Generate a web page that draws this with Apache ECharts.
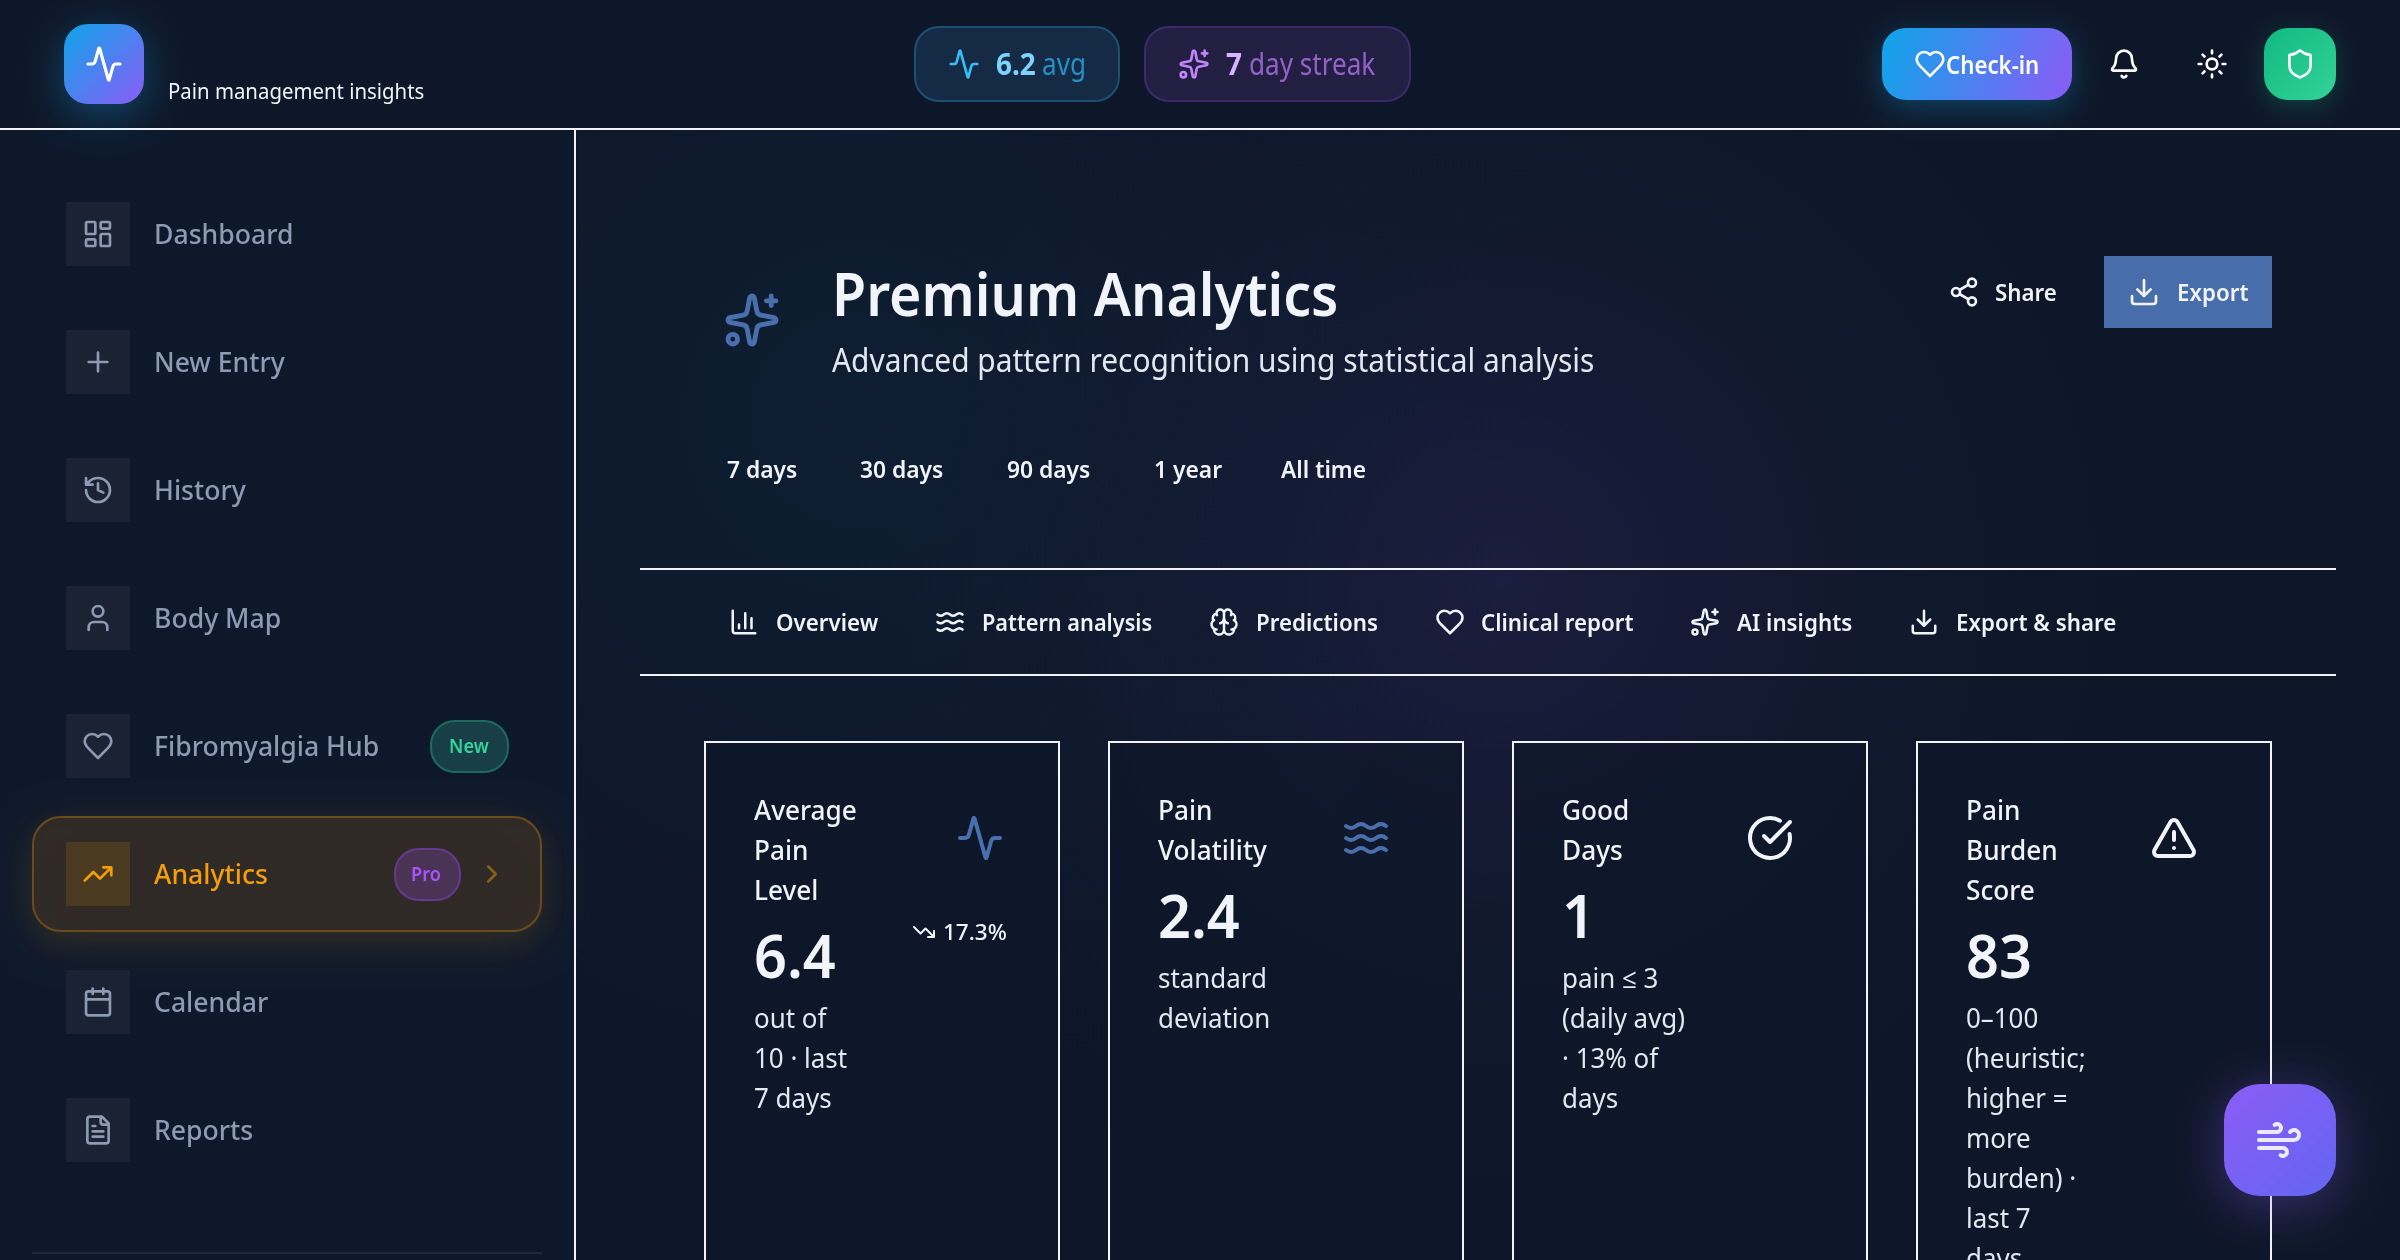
<!DOCTYPE html>
<html>
<head>
<meta charset="utf-8">
<title>Premium Analytics</title>
<script src="https://cdn.jsdelivr.net/npm/echarts@6/dist/echarts.min.js"></script>
<style>
    html, body { margin: 0; padding: 0; background: #0e1729; }
    #main { width: 2400px; height: 1260px; }
</style>
</head>
<body>
<div id="main"></div>
<script>
'use strict';

// page content
const tagline = 'Pain management insights';
const navLabels = ['Dashboard', 'New Entry', 'History', 'Body Map', 'Fibromyalgia Hub', 'Analytics', 'Calendar', 'Reports'];
const navIcons = ['dashboard', 'plus', 'history', 'user', 'heart', 'trendUp', 'calendar', 'file'];
const rangeLabels = ['7 days', '30 days', '90 days', '1 year', 'All time'];
const tabLabels = ['Overview', 'Pattern analysis', 'Predictions', 'Clinical report', 'AI insights', 'Export & share'];
const tabIcons = ['bars', 'waves', 'brain', 'heart', 'sparkles', 'download'];
const kpiTitles = [['Average', 'Pain', 'Level'], ['Pain', 'Volatility'], ['Good', 'Days'], ['Pain', 'Burden', 'Score']];
const kpiValues = ['6.4', '2.4', '1', '83'];
const kpiNotes = [
    ['out of', '10 · last', '7 days'],
    ['standard', 'deviation'],
    ['pain ≤ 3', '(daily avg)', '· 13% of', 'days'],
    ['0–100', '(heuristic;', 'higher =', 'more', 'burden) ·', 'last 7', 'days']
];
const kpiIcons = ['activity', 'waves', 'check', 'alert'];
const kpiTrend = '17.3%';

const ICONS = {
    activity: 'M22 12h-2.48a2 2 0 0 0-1.93 1.46l-2.35 8.36a.25.25 0 0 1-.48 0L9.24 2.18a.25.25 0 0 0-.48 0l-2.35 8.36A2 2 0 0 1 4.49 12H2',
    sparkles: 'M11.017 2.814a1 1 0 0 1 1.966 0l1.051 5.558a2 2 0 0 0 1.594 1.594l5.558 1.051a1 1 0 0 1 0 1.966l-5.558 1.051a2 2 0 0 0-1.594 1.594l-1.051 5.558a1 1 0 0 1-1.966 0l-1.051-5.558a2 2 0 0 0-1.594-1.594l-5.558-1.051a1 1 0 0 1 0-1.966l5.558-1.051a2 2 0 0 0 1.594-1.594zM20 2v4M22 4h-4M2 20a2 2 0 1 0 4 0a2 2 0 1 0-4 0',
    heart: 'M19 14c1.49-1.46 3-3.21 3-5.5A5.5 5.5 0 0 0 16.5 3c-1.76 0-3 .5-4.5 2-1.5-1.5-2.74-2-4.5-2A5.5 5.5 0 0 0 2 8.5c0 2.3 1.5 4.05 3 5.5l7 7Z',
    bell: 'M10.268 21a2 2 0 0 0 3.464 0M3.262 15.326A1 1 0 0 0 4 17h16a1 1 0 0 0 .74-1.673C19.41 13.956 18 12.499 18 8A6 6 0 0 0 6 8c0 4.499-1.411 5.956-2.738 7.326',
    sun: 'M8 12a4 4 0 1 0 8 0a4 4 0 1 0-8 0M12 2v2M12 20v2M4.93 4.93l1.41 1.41M17.66 17.66l1.41 1.41M2 12h2M20 12h2M6.34 17.66l-1.41 1.41M19.07 4.93l-1.41 1.41',
    shield: 'M20 13c0 5-3.5 7.5-7.66 8.95a1 1 0 0 1-.67-.01C7.5 20.5 4 18 4 13V6a1 1 0 0 1 1-1c2 0 4.5-1.2 6.24-2.72a1.17 1.17 0 0 1 1.52 0C14.51 3.81 17 5 19 5a1 1 0 0 1 1 1z',
    share: 'M15 5a3 3 0 1 0 6 0a3 3 0 1 0-6 0M3 12a3 3 0 1 0 6 0a3 3 0 1 0-6 0M15 19a3 3 0 1 0 6 0a3 3 0 1 0-6 0M8.59 13.51l6.83 3.98M15.41 6.51l-6.82 3.98',
    download: 'M12 15V3M21 15v4a2 2 0 0 1-2 2H5a2 2 0 0 1-2-2v-4M7 10l5 5 5-5',
    dashboard: 'M4 3h5a1 1 0 0 1 1 1v7a1 1 0 0 1-1 1H4a1 1 0 0 1-1-1V4a1 1 0 0 1 1-1zM15 3h5a1 1 0 0 1 1 1v3a1 1 0 0 1-1 1h-5a1 1 0 0 1-1-1V4a1 1 0 0 1 1-1zM15 12h5a1 1 0 0 1 1 1v7a1 1 0 0 1-1 1h-5a1 1 0 0 1-1-1v-7a1 1 0 0 1 1-1zM4 16h5a1 1 0 0 1 1 1v3a1 1 0 0 1-1 1H4a1 1 0 0 1-1-1v-3a1 1 0 0 1 1-1z',
    plus: 'M5 12h14M12 5v14',
    history: 'M3 12a9 9 0 1 0 9-9 9.75 9.75 0 0 0-6.74 2.74L3 8M3 3v5h5M12 7v5l4 2',
    user: 'M19 21v-2a4 4 0 0 0-4-4H9a4 4 0 0 0-4 4v2M8 7a4 4 0 1 0 8 0a4 4 0 1 0-8 0',
    trendUp: 'M16 7h6v6M22 7l-8.5 8.5-5-5L2 17',
    trendDown: 'M16 17h6v-6M22 17l-8.5-8.5-5 5L2 7',
    calendar: 'M8 2v4M16 2v4M5 4h14a2 2 0 0 1 2 2v14a2 2 0 0 1-2 2H5a2 2 0 0 1-2-2V6a2 2 0 0 1 2-2zM3 10h18',
    file: 'M15 2H6a2 2 0 0 0-2 2v16a2 2 0 0 0 2 2h12a2 2 0 0 0 2-2V7ZM14 2v4a2 2 0 0 0 2 2h4M10 9H8M16 13H8M16 17H8',
    chevron: 'M9 18l6-6-6-6',
    bars: 'M3 3v16a2 2 0 0 0 2 2h16M18 17V9M13 17V5M8 17v-3',
    waves: 'M2 6c.6.5 1.2 1 2.5 1C7 7 7 5 9.5 5c2.6 0 2.4 2 5 2 2.5 0 2.5-2 5-2 1.3 0 1.9.5 2.5 1M2 12c.6.5 1.2 1 2.5 1 2.5 0 2.5-2 5-2 2.6 0 2.4 2 5 2 2.5 0 2.5-2 5-2 1.3 0 1.9.5 2.5 1M2 18c.6.5 1.2 1 2.5 1 2.5 0 2.5-2 5-2 2.6 0 2.4 2 5 2 2.5 0 2.5-2 5-2 1.3 0 1.9.5 2.5 1',
    brain: 'M12 5a3 3 0 1 0-5.997.125 4 4 0 0 0-2.526 5.77 4 4 0 0 0 .556 6.588A4 4 0 1 0 12 18ZM12 5a3 3 0 1 1 5.997.125 4 4 0 0 1 2.526 5.77 4 4 0 0 1-.556 6.588A4 4 0 1 1 12 18ZM15 13a4.5 4.5 0 0 1-3-4 4.5 4.5 0 0 1-3 4M17.599 6.5a3 3 0 0 0 .399-1.375M6.003 5.125A3 3 0 0 0 6.401 6.5M3.477 10.896a4 4 0 0 1 .585-.396M19.938 10.5a4 4 0 0 1 .585.396M6 18a4 4 0 0 1-1.967-.516M19.967 17.484A4 4 0 0 1 18 18',
    check: 'M21.801 10A10 10 0 1 1 17 3.335M9 11l3 3L22 4',
    alert: 'M21.73 18l-8-14a2 2 0 0 0-3.48 0l-8 14A2 2 0 0 0 4 21h16a2 2 0 0 0 1.73-3M12 9v4M12 17h.01',
    wind: 'M12.8 19.6A2 2 0 1 0 14 16H2M17.5 8a2.5 2.5 0 1 1 2 4H2M9.8 4.4A2 2 0 1 1 11 8H2'
};

const FONT = '"Noto Sans", "Open Sans", sans-serif';
const INK = '#f1f5f9';
const MUTED = '#8c9bb3';
const STEEL = '#4a6fae';

// the graphic component has no plain 'path' type, so each icon becomes a shape
Object.keys(ICONS).forEach(function (name) {
    echarts.graphic.registerShape('icon-' + name, echarts.graphic.extendPath(ICONS[name], {}));
});

function makePage() {
    let els = [];

    function box(x, y, w, h, r, fill, stroke, extra) {
        els.push({
            type: 'rect',
            shape: {x: x, y: y, width: w, height: h, r: r},
            style: Object.assign({fill: fill, stroke: stroke || null, lineWidth: stroke ? 2 : 0}, extra || {})
        });
    }

    function icon(name, cx, cy, scale, color, width) {
        els.push({
            type: 'icon-' + name,
            x: cx - 12 * scale,
            y: cy - 12 * scale,
            scaleX: scale,
            scaleY: scale,
            style: {fill: null, stroke: color, lineWidth: width || 2, lineCap: 'round', lineJoin: 'round'}
        });
    }

    // squeeze: Noto runs wider than the face in the picture, so each text is fitted by eye
    function label(str, x, cy, size, weight, color, squeeze) {
        els.push({
            type: 'text',
            x: x,
            y: cy + size * 0.07,
            scaleX: squeeze,
            style: {
                text: str, x: 0, y: 0,
                font: weight + ' ' + size + 'px ' + FONT,
                fill: color,
                textAlign: 'left',
                textVerticalAlign: 'middle'
            }
        });
    }

    function grad(c1, c2) {
        return {type: 'linear', x: 0, y: 0, x2: 1, y2: 1, colorStops: [{offset: 0, color: c1}, {offset: 1, color: c2}]};
    }

    function glow(x, y, r, color) {
        return {type: 'radial', x: x, y: y, r: r, global: true, colorStops: [{offset: 0, color: color}, {offset: 1, color: 'rgba(14,23,41,0)'}]};
    }

    // backdrop
    box(0, 0, 2400, 1260, 0, '#0e1729');
    box(0, 130, 575, 1130, 0, '#0d182b');
    box(577, 130, 1823, 1130, 0, glow(860, 420, 800, 'rgba(14,165,233,0.05)'));
    box(577, 130, 1823, 1130, 0, glow(1500, 580, 720, 'rgba(139,92,246,0.10)'));
    box(0, 128, 2400, 2, 0, INK);
    box(574, 130, 2, 1130, 0, INK);

    // header
    box(64, 24, 80, 80, 24, grad('#0ea5e9', '#8b5cf6'), null, {shadowBlur: 40, shadowColor: 'rgba(14,165,233,0.35)', shadowOffsetY: 10});
    icon('activity', 104, 64, 1.6, '#ffffff');
    label(tagline, 168, 92, 21, 400, INK, 0.97);

    box(915, 27, 204, 74, 24, '#152b45', '#1c5070');
    icon('activity', 964, 64, 1.33, '#38bdf8');
    label('6.2', 996, 64, 30, 700, '#7dd3fc', 0.93);
    label('avg', 1042, 64, 30, 400, '#2590c5', 0.87);

    box(1145, 27, 265, 74, 24, '#221f42', '#3d2a6a');
    icon('sparkles', 1194, 64, 1.33, '#c084fc');
    label('7', 1226, 64, 30, 700, '#d8b4fe', 0.93);
    label('day streak', 1249, 64, 30, 400, '#9461c9', 0.87);

    box(1882, 28, 190, 72, 24, grad('#0ea5e9', '#8b5cf6'), null, {shadowBlur: 30, shadowColor: 'rgba(14,165,233,0.3)', shadowOffsetY: 8});
    icon('heart', 1930, 64, 1.33, '#ffffff');
    label('Check-in', 1946, 65, 25, 600, '#ffffff', 0.89);

    icon('bell', 2124, 64, 1.33, '#ffffff');
    icon('sun', 2212, 64, 1.33, '#ffffff');

    box(2264, 28, 72, 72, 24, grad('#10b981', '#34d399'), null, {shadowBlur: 24, shadowColor: 'rgba(16,185,129,0.25)', shadowOffsetY: 6});
    icon('shield', 2300, 64, 1.33, '#ffffff');

    // sidebar
    box(33, 817, 508, 114, 28, '#302a27', '#6b4a1b', {shadowBlur: 40, shadowColor: 'rgba(245,158,11,0.18)', shadowOffsetY: 10});
    navLabels.forEach(function (name, i) {
        let active = name === 'Analytics';
        let top = 202 + i * 128;
        box(66, top, 64, 64, 0, active ? '#4a3a20' : '#1a2233');
        icon(navIcons[i], 98, top + 32, 1.33, active ? '#f59e0b' : MUTED);
        label(name, 154, top + 32, 27, 500, active ? '#f59e0b' : MUTED, 0.985);
    });
    box(431, 721, 77, 51, 24, '#183f47', '#1d6a5e');
    label('New', 449, 746, 19.5, 600, '#34d399', 0.93);
    box(395, 849, 65, 51, 24, '#4a3355', '#643a8f');
    label('Pro', 411, 874, 19.5, 600, '#a855f7', 0.93);
    icon('chevron', 492, 874, 1.25, '#8a6118');
    box(32, 1252, 510, 2, 0, '#1e293b');

    // page title
    icon('sparkles', 752, 320, 2.4, STEEL);
    label('Premium Analytics', 832, 295, 60, 600, INK, 0.925);
    label('Advanced pattern recognition using statistical analysis', 832, 360, 33, 400, '#e2e8f0', 0.906);

    icon('share', 1964, 292, 1.33, INK);
    label('Share', 1995, 292, 24, 600, INK, 0.93);
    box(2104, 256, 168, 72, 0, '#486dab');
    icon('download', 2144, 292, 1.33, INK);
    label('Export', 2177, 292, 24, 600, INK, 0.93);

    // range picker and tabs
    let rangeX = [727, 860, 1007, 1154, 1281];
    rangeLabels.forEach(function (name, i) {
        label(name, rangeX[i], 469, 24, 600, INK, 0.95);
    });

    box(640, 568, 1696, 2, 0, INK);
    box(640, 674, 1696, 2, 0, INK);
    let tabIconX = [744, 950, 1224, 1450, 1705, 1924];
    let tabTextX = [776, 982, 1256, 1481, 1737, 1956];
    let tabSqueeze = [0.93, 0.905, 0.93, 0.93, 0.93, 0.93];
    tabLabels.forEach(function (name, i) {
        icon(tabIcons[i], tabIconX[i], 622, 1.25, INK);
        label(name, tabTextX[i], 622, 24, 600, INK, tabSqueeze[i]);
    });

    // stat cards
    let cardX = [705, 1109, 1513, 1917];
    let iconX = [980, 1366, 1770, 2174];
    let iconColor = [STEEL, STEEL, INK, INK];
    kpiTitles.forEach(function (title, i) {
        let left = cardX[i] + 49;
        box(cardX[i], 742, 354, 560, 0, 'rgba(14,23,41,0.7)', INK);
        title.forEach(function (line, k) {
            label(line, left, 810 + k * 40, 27, 500, INK, 0.97);
        });
        icon(kpiIcons[i], iconX[i], 838, 2, iconColor[i]);
        let valueY = 810 + title.length * 40 + 27;
        label(kpiValues[i], left, valueY, 60, 600, INK, 0.96);
        kpiNotes[i].forEach(function (line, k) {
            label(line, left, valueY + 61 + k * 40, 27, 400, '#e2e8f0', 0.96);
        });
    });
    icon('trendDown', 924, 932, 1, INK);
    label(kpiTrend, 943, 932, 22.5, 500, INK, 1);

    // floating action button
    box(2224, 1084, 112, 112, 36, grad('#8b5cf6', '#6366f1'), null, {shadowBlur: 50, shadowColor: 'rgba(139,92,246,0.35)', shadowOffsetY: 8});
    icon('wind', 2279, 1140, 2, '#ede9fe');

    let myChart = echarts.init(document.getElementById('main'));
    myChart.setOption({
        backgroundColor: '#0e1729',
        animation: false,
        graphic: {elements: els}
    });
}

makePage();
</script>
</body>
</html>
